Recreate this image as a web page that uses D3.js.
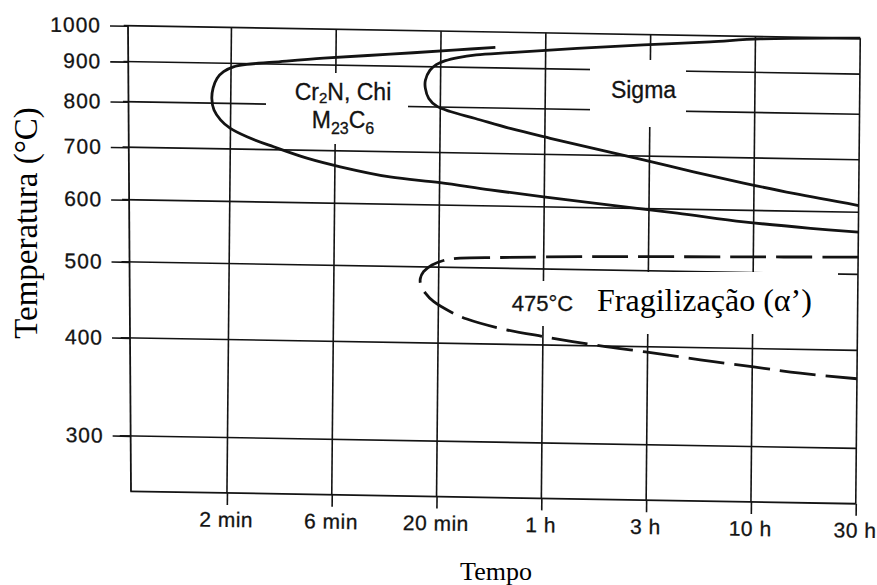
<!DOCTYPE html>
<html>
<head>
<meta charset="utf-8">
<script src="https://cdn.jsdelivr.net/npm/d3@7"></script>
<style>
  html, body { margin: 0; padding: 0; background: #fff; }
  svg { display: block; }
</style>
</head>
<body>
<svg id="chart" width="877" height="585"></svg>
<script>
// Time axis (minutes) with its tick labels
const timeTicks = [2, 6, 20, 60, 180, 600, 1800];
const timeLabels = ["2 min", "6 min", "20 min", "1 h", "3 h", "10 h", "30 h"];
// Temperature axis (°C)
const tempTicks = [300, 400, 500, 600, 700, 800, 900, 1000];

// Cr2N, Chi, M23C6 precipitation curve: time (min) and temperature (°C)
const nitrideTime = [35.4, 23.7, 11.2, 5.27, 3.12, 2.36, 2.05, 1.85, 1.73, 1.66, 1.64, 1.68, 1.80, 1.99,
                     2.38, 3.15, 4.47, 6.38, 11.3, 20.1, 34.0, 59.6, 120, 249, 535, 1090, 1800];
const nitrideTemp = [956, 947, 932, 918, 905, 898, 891, 878, 861, 836, 811, 784, 762, 744,
                     726, 706, 684, 668, 650, 641, 629, 618, 605, 593, 580, 571, 566];

// Sigma phase curve
const sigmaTime = [1800, 632, 357, 167, 83.3, 41.4, 29.0, 24.0, 21.0, 19.0, 17.7, 16.8, 16.8, 17.5, 19.2,
                   22.2, 28.9, 41.7, 63.5, 100, 169, 299, 532, 909, 1800];
const sigmaTemp = [1000, 993, 982, 970, 957, 942, 934, 926, 917, 906, 891, 865, 845, 820, 802,
                   790, 775, 754, 734, 714, 692, 670, 650, 632, 612];

// 475 °C embrittlement (alpha prime) curve
const alphaTime = [1800, 478, 109, 38.1, 25.0, 21.0, 18.5, 16.8, 16.2, 16.3, 17.2, 18.9, 22.7, 27.0,
                   38.4, 60.4, 110, 176, 330, 609, 994, 1800];
const alphaTemp = [526, 523, 520, 516, 514, 510, 503, 493, 483, 474, 463, 452, 439, 430,
                   419, 410, 400, 394, 386, 379, 373, 368];

const ink = "#131313";
const sans = "'Liberation Sans', Arial, Helvetica, sans-serif";
const serif = "'Liberation Serif', 'Times New Roman', Times, serif";

const svg = d3.select("#chart");

// Plot frame size; the time ticks are evenly spaced, the axis starts one step before "2 min"
const plotW = 728.5, plotH = 465.5;
const tickStep = 104.8;
// The frame sits slightly askew on the sheet; the left edge leans a little differently
const frameTransform = "matrix(1,0.01716,-0.00967,1,131.75,25.75)";
const leftTransform = "matrix(1,0.01716,0.00645,1,128,25.75)";

const x = d3.scaleLinear()
  .domain(timeTicks.map(Math.log10))
  .range(timeTicks.map((_, i) => plotW - (timeTicks.length - 1 - i) * tickStep));
const y = d3.scaleLog().domain([300, 1000]).range([plotH * 0.881, 0]);
const tx = t => x(Math.log10(t));

// ---- grid, frame and axes
const frame = svg.append("g").attr("transform", frameTransform);
const grid = frame.append("g").attr("stroke", ink).attr("stroke-width", 1.6).attr("fill", "none");

grid.selectAll("line.h").data(tempTicks).join("line").attr("class", "h")
  .attr("x1", -8).attr("x2", plotW)
  .attr("y1", d => y(d)).attr("y2", d => y(d));

grid.selectAll("line.v").data(timeTicks).join("line").attr("class", "v")
  .attr("x1", d => tx(d)).attr("x2", d => tx(d))
  .attr("y1", 0).attr("y2", plotH);

grid.append("path").attr("stroke-width", 1.8).attr("d", `M3,${plotH}H${plotW}`);

const xAxis = d3.axisBottom(x)
  .tickValues(timeTicks.map(Math.log10))
  .tickFormat((d, i) => timeLabels[i])
  .tickSizeInner(12).tickSizeOuter(0).tickPadding(7);
const gx = frame.append("g").attr("transform", `translate(0,${plotH})`).attr("color", ink).call(xAxis);
gx.select(".domain").remove();
gx.selectAll("line").attr("stroke-width", 1.6);
gx.selectAll("text").attr("dx", -1)
  .style("font-family", sans).style("font-size", "21px").style("letter-spacing", "0.5px")
  .attr("stroke", ink).attr("stroke-width", 0.3);

// Temperature axis along the left edge
const left = svg.append("g").attr("transform", leftTransform);
left.append("line").attr("x1", 0).attr("x2", 0).attr("y1", 0).attr("y2", plotH)
  .attr("stroke", ink).attr("stroke-width", 1.8);

const yAxis = d3.axisLeft(y)
  .tickValues(tempTicks)
  .tickFormat(d3.format("d"))
  .tickSizeInner(18).tickSizeOuter(0).tickPadding(9);
const gy = left.append("g").attr("color", ink).call(yAxis);
gy.select(".domain").remove();
gy.selectAll("line").attr("stroke-width", 1.6);
gy.selectAll("text").style("font-family", sans).style("font-size", "21px").style("letter-spacing", "1px")
  .attr("stroke", ink).attr("stroke-width", 0.3);

// ---- white panels behind the region labels
const panels = [
  [266, 73, 142, 71],   // Cr2N, Chi / M23C6
  [590, 60, 96, 67],    // Sigma
  [500, 281, 77, 45],   // 475°C
  [577, 272, 261, 62]   // Fragilização
];
svg.append("g").selectAll("rect").data(panels).join("rect")
  .attr("x", d => d[0]).attr("y", d => d[1]).attr("width", d => d[2]).attr("height", d => d[3])
  .attr("fill", "#fff");

// ---- transformation curves
const curves = svg.append("g").attr("transform", frameTransform)
  .attr("fill", "none").attr("stroke", ink).attr("stroke-width", 2.8)
  .attr("stroke-linecap", "butt").attr("stroke-linejoin", "round");

const line = d3.line()
  .x(d => tx(d[0]))
  .y(d => y(d[1]))
  .curve(d3.curveCatmullRom.alpha(0.5));

curves.append("path").attr("d", line(d3.zip(nitrideTime, nitrideTemp)));
curves.append("path").attr("d", line(d3.zip(sigmaTime, sigmaTemp)));
curves.append("path").attr("d", line(d3.zip(alphaTime, alphaTemp)))
  .attr("stroke-dasharray", "36 10");

// ---- region labels
const labels = svg.append("g").attr("fill", ink).attr("stroke", ink).attr("stroke-width", 0.3);

// two-line label: "Cr2N, Chi" over "M23C6"
const l1 = labels.append("text").attr("text-anchor", "middle")
  .style("font-family", sans).style("font-size", "23px");
l1.append("tspan").attr("x", 343).attr("y", 100).text("Cr");
l1.append("tspan").attr("dy", 3).style("font-size", "15px").text("2");
l1.append("tspan").attr("dy", -3).text("N, Chi");
l1.append("tspan").attr("x", 343).attr("y", 128).text("M");
l1.append("tspan").attr("dy", 6).style("font-size", "16px").text("23");
l1.append("tspan").attr("dy", -6).text("C");
l1.append("tspan").attr("dy", 6).style("font-size", "16px").text("6");

labels.append("text").attr("x", 643.5).attr("y", 98).attr("text-anchor", "middle")
  .style("font-family", sans).style("font-size", "23px").text("Sigma");

labels.append("text").attr("x", 542.5).attr("y", 311).attr("text-anchor", "middle")
  .style("font-family", sans).style("font-size", "22px").text("475°C");

svg.append("text").attr("x", 597).attr("y", 311)
  .style("font-family", serif).style("font-size", "32px").attr("fill", "#000")
  .text("Fragilização (α’)");

// ---- axis titles
svg.append("text").attr("transform", "translate(37,223) rotate(-90)").attr("text-anchor", "middle")
  .style("font-family", serif).style("font-size", "33px").attr("fill", "#000")
  .text("Temperatura (°C)");

svg.append("text").attr("x", 496).attr("y", 580).attr("text-anchor", "middle")
  .style("font-family", serif).style("font-size", "26px").attr("fill", "#000")
  .text("Tempo");
</script>
</body>
</html>
